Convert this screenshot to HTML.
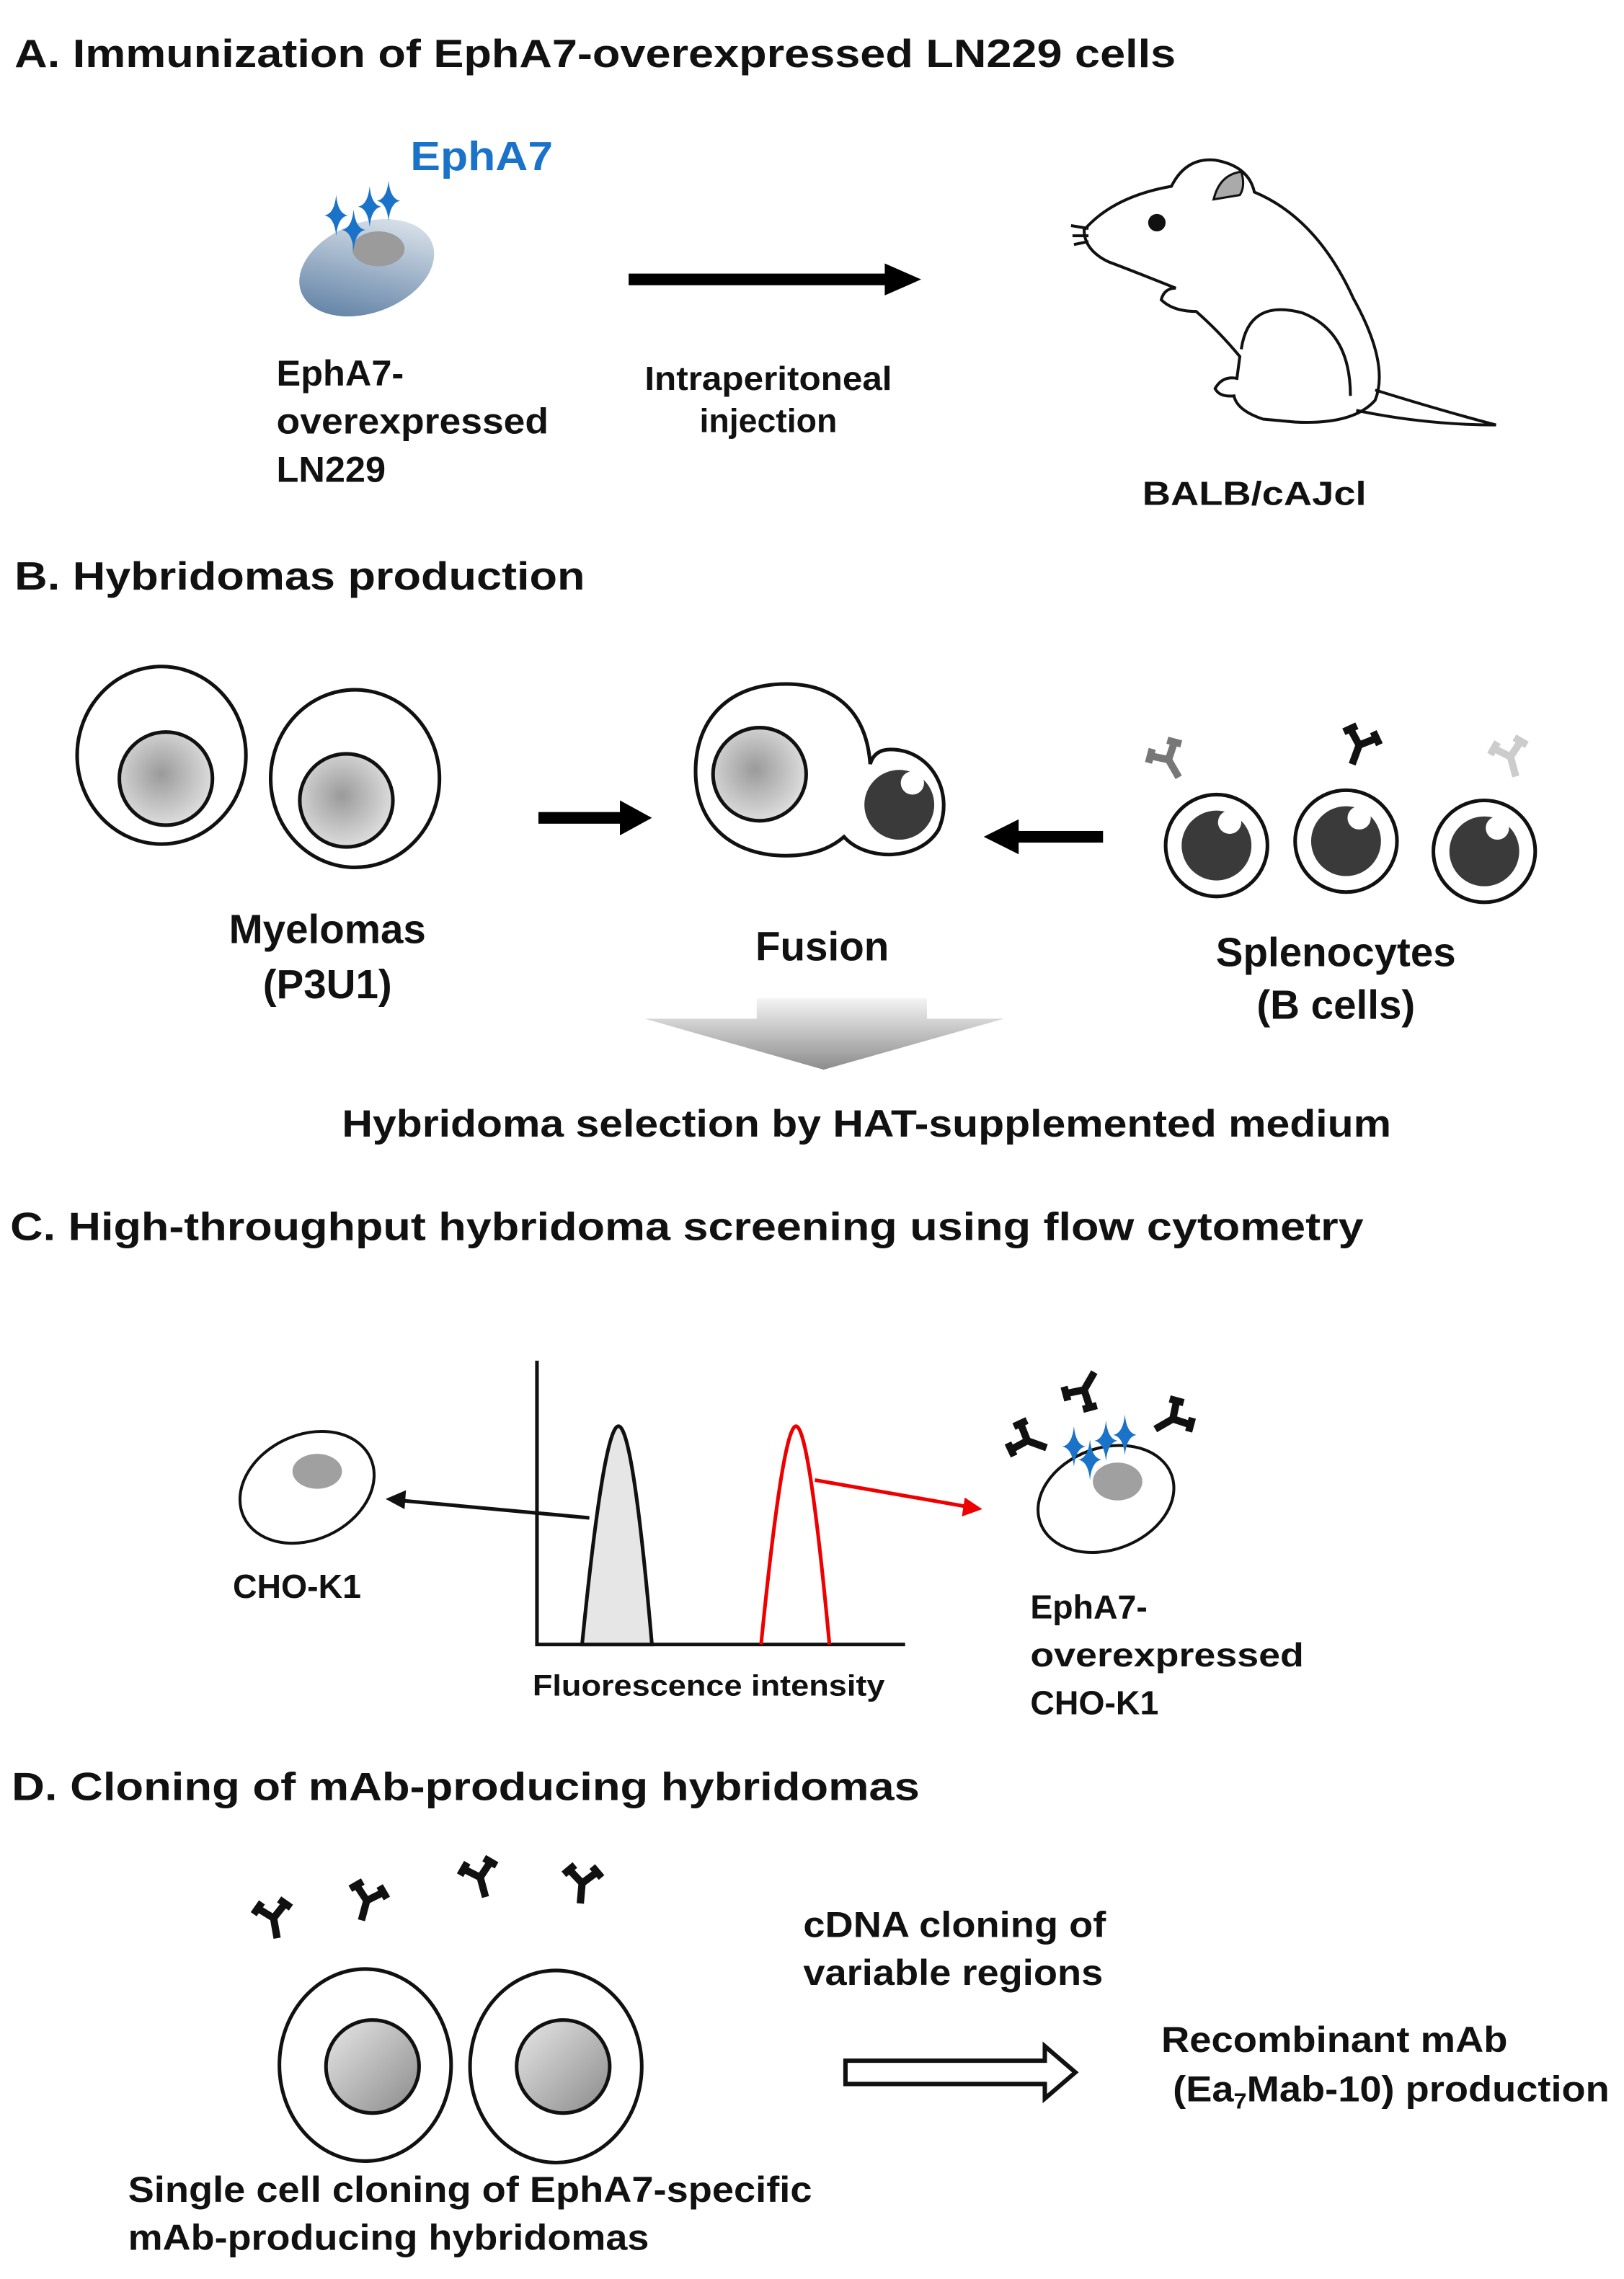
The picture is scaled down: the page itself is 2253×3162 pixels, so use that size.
<!DOCTYPE html>
<html><head><meta charset="utf-8"><style>
html,body{margin:0;padding:0;background:#fff}
svg{display:block}
text{font-family:"Liberation Sans",Arial,sans-serif;font-weight:bold;fill:#111}
</style></head><body>
<svg width="2253" height="3162" viewBox="0 0 1116 1566" preserveAspectRatio="none" xmlns="http://www.w3.org/2000/svg">
<defs>
<linearGradient id="cellg" x1="0" y1="1" x2="1" y2="0"><stop offset="0" stop-color="#4f739b"/><stop offset="1" stop-color="#eef2f6"/></linearGradient>
<radialGradient id="nuc" cx="0.45" cy="0.45" r="0.6"><stop offset="0" stop-color="#9a9a9a"/><stop offset="1" stop-color="#e2e2e2"/></radialGradient>
<linearGradient id="nucD" x1="0" y1="0" x2="1" y2="1"><stop offset="0" stop-color="#e8e8e8"/><stop offset="1" stop-color="#8a8a8a"/></linearGradient>
<linearGradient id="bigarr" x1="0" y1="0" x2="0" y2="1"><stop offset="0" stop-color="#f4f4f4"/><stop offset="1" stop-color="#8c8c8c"/></linearGradient>
<g id="ab"><path d="M0,0 L0,14 M0,0 L-9,-8 M0,0 L9,-8" stroke-width="5" fill="none"/><path d="M-13,-5 L-6,-12 M13,-5 L6,-12" stroke-width="5" fill="none"/></g>
<g id="sp"><path d="M0,-14 Q1.2,-1.2 8,0 Q1.2,1.2 0,14 Q-1.2,1.2 -8,0 Q-1.2,-1.2 0,-14Z" fill="#1a73c8"/></g>
<g id="bcell"><circle r="35" fill="#fff" stroke="#111" stroke-width="2.5"/><circle r="24" fill="#3a3a3a"/><circle cx="9" cy="-16" r="8" fill="#fff"/></g>
</defs>

<!-- A -->
<text x="10" y="46" font-size="27" textLength="798" lengthAdjust="spacingAndGlyphs">A. Immunization of EphA7-overexpressed LN229 cells</text>
<text x="282" y="117" font-size="28" style="fill:#1a73c8" textLength="98" lengthAdjust="spacingAndGlyphs">EphA7</text>
<ellipse cx="252" cy="184" rx="48" ry="31" transform="rotate(-20 252 184)" fill="url(#cellg)"/>
<ellipse cx="260" cy="171" rx="18" ry="12" fill="#9b9b9b"/>
<use href="#sp" x="231" y="148"/><use href="#sp" x="243" y="158"/><use href="#sp" x="254" y="142"/><use href="#sp" x="267" y="138"/>
<text x="190" y="265" font-size="25">EphA7-</text>
<text x="190" y="298" font-size="25" textLength="187" lengthAdjust="spacingAndGlyphs">overexpressed</text>
<text x="190" y="331" font-size="25">LN229</text>
<rect x="432" y="188" width="180" height="8" fill="#000"/><polygon points="608,181 633,192 608,203" fill="#000"/>
<text x="528" y="268" font-size="23" text-anchor="middle" textLength="170" lengthAdjust="spacingAndGlyphs">Intraperitoneal</text>
<text x="528" y="297" font-size="23" text-anchor="middle">injection</text>
<!-- mouse -->
<g fill="none" stroke="#111" stroke-width="2">
<path d="M745,158 Q765,135 805,128 Q815,108 835,110 Q858,114 862,132 Q905,150 930,205 Q955,250 945,275 Q930,292 890,290 L868,288 Q850,282 848,272 Q838,273 835,267 Q840,258 850,260 L852,245 Q838,228 822,214 Q806,214 798,206 Q800,198 808,198 Q778,186 762,180 Q745,172 745,158Z"/>
<path d="M853,240 Q858,205 895,215 Q928,228 928,272"/>
<path d="M932,282 Q980,292 1028,292 Q990,282 945,268"/>
<path d="M736,155 L748,157 M737,162 L748,162 M738,168 L748,166"/>
</g>
<path d="M834,137 Q838,120 853,118 Q856,128 852,134 Z" fill="#aaa" stroke="#111" stroke-width="1.5"/>
<ellipse cx="795" cy="153" rx="6" ry="6" fill="#111"/>
<text x="785" y="347" font-size="23" textLength="154" lengthAdjust="spacingAndGlyphs">BALB/cAJcl</text>

<!-- B -->
<text x="10" y="405" font-size="27" textLength="392" lengthAdjust="spacingAndGlyphs">B. Hybridomas production</text>
<ellipse cx="111" cy="519" rx="58" ry="61" fill="#fff" stroke="#111" stroke-width="2.5"/>
<circle cx="114" cy="535" r="32" fill="url(#nuc)" stroke="#111" stroke-width="2.5"/>
<ellipse cx="244" cy="535" rx="58" ry="61" fill="#fff" stroke="#111" stroke-width="2.5"/>
<circle cx="238" cy="550" r="32" fill="url(#nuc)" stroke="#111" stroke-width="2.5"/>
<rect x="370" y="558" width="58" height="8" fill="#000"/><polygon points="426,550 448,562 426,574" fill="#000"/>
<path d="M598,525 C595,485 570,470 540,470 C500,470 478,495 478,530 C478,568 505,588 540,588 C560,588 572,582 580,575 C595,592 632,592 645,570 C656,545 640,515 612,515 C605,515 600,518 598,525Z" fill="#fff" stroke="#111" stroke-width="2.5"/>
<circle cx="522" cy="532" r="32" fill="url(#nuc)" stroke="#111" stroke-width="2.5"/>
<circle cx="618" cy="553" r="24" fill="#3a3a3a"/><circle cx="627" cy="538" r="8" fill="#fff"/>
<rect x="698" y="571" width="60" height="8" fill="#000"/><polygon points="700,563 676,575 700,587" fill="#000"/>
<use href="#bcell" x="836" y="581"/><use href="#bcell" x="925" y="578"/><use href="#bcell" x="1020" y="585"/>
<use href="#ab" x="803" y="522" stroke="#777" transform="rotate(-30 803 522)"/>
<use href="#ab" x="934" y="512" stroke="#111" transform="rotate(20 934 512)"/>
<use href="#ab" x="1038" y="520" stroke="#ccc" transform="rotate(-15 1038 520)"/>
<text x="225" y="648" font-size="28" text-anchor="middle">Myelomas</text>
<text x="225" y="686" font-size="28" text-anchor="middle">(P3U1)</text>
<text x="565" y="660" font-size="28" text-anchor="middle">Fusion</text>
<text x="918" y="664" font-size="28" text-anchor="middle">Splenocytes</text>
<text x="918" y="700" font-size="28" text-anchor="middle">(B cells)</text>
<path d="M520,686 L637,686 L637,700 L690,700 L566,735 L443,700 L520,700Z" fill="url(#bigarr)"/>
<text x="235" y="781" font-size="26" textLength="721" lengthAdjust="spacingAndGlyphs">Hybridoma selection by HAT-supplemented medium</text>

<!-- C -->
<text x="7" y="852" font-size="27" textLength="930" lengthAdjust="spacingAndGlyphs">C. High-throughput hybridoma screening using flow cytometry</text>
<path d="M369,935 L369,1130 L622,1130" fill="none" stroke="#111" stroke-width="2.5"/>
<path d="M400,1130 Q415,980 425,980 Q435,980 448,1130Z" fill="#e6e6e6" stroke="#111" stroke-width="2.5"/>
<path d="M523,1130 Q538,980 547,980 Q556,980 570,1130" fill="none" stroke="#e00" stroke-width="2.5"/>
<ellipse cx="211" cy="1022" rx="48" ry="36" transform="rotate(-25 211 1022)" fill="#fff" stroke="#111" stroke-width="2"/>
<ellipse cx="218" cy="1011" rx="17" ry="12" fill="#a0a0a0"/>
<text x="160" y="1098" font-size="23">CHO-K1</text>
<line x1="405" y1="1043" x2="275" y2="1031" stroke="#111" stroke-width="2.5"/><polygon points="265,1030 279,1024 278,1037" fill="#111"/>
<line x1="560" y1="1017" x2="663" y2="1035" stroke="#e00" stroke-width="2.5"/><polygon points="675,1037 661,1042 663,1029" fill="#e00"/>
<text x="487" y="1165" font-size="20" text-anchor="middle" textLength="242" lengthAdjust="spacingAndGlyphs">Fluorescence intensity</text>
<ellipse cx="760" cy="1030" rx="48" ry="35" transform="rotate(-20 760 1030)" fill="#fff" stroke="#111" stroke-width="2"/>
<ellipse cx="768" cy="1018" rx="17" ry="13" fill="#a0a0a0"/>
<use href="#sp" x="738" y="994"/><use href="#sp" x="749" y="1003"/><use href="#sp" x="760" y="990"/><use href="#sp" x="773" y="986"/>
<use href="#ab" x="706" y="990" stroke="#111" transform="rotate(-70 706 990)"/>
<use href="#ab" x="745" y="955" stroke="#111" transform="rotate(-150 745 955)"/>
<use href="#ab" x="806" y="975" stroke="#111" transform="rotate(60 806 975)"/>
<text x="708" y="1112" font-size="23">EphA7-</text>
<text x="708" y="1145" font-size="23" textLength="188" lengthAdjust="spacingAndGlyphs">overexpressed</text>
<text x="708" y="1178" font-size="23">CHO-K1</text>

<!-- D -->
<text x="8" y="1237" font-size="27" textLength="624" lengthAdjust="spacingAndGlyphs">D. Cloning of mAb-producing hybridomas</text>
<use href="#ab" x="188" y="1318" stroke="#111" transform="rotate(-10 188 1318)"/>
<use href="#ab" x="252" y="1306" stroke="#111" transform="rotate(15 252 1306)"/>
<use href="#ab" x="330" y="1290" stroke="#111" transform="rotate(-15 330 1290)"/>
<use href="#ab" x="400" y="1294" stroke="#111" transform="rotate(5 400 1294)"/>
<ellipse cx="251" cy="1419" rx="59" ry="66" fill="#fff" stroke="#111" stroke-width="2.5"/>
<circle cx="256" cy="1420" r="32" fill="url(#nucD)" stroke="#111" stroke-width="2.5"/>
<ellipse cx="382" cy="1420" rx="59" ry="66" fill="#fff" stroke="#111" stroke-width="2.5"/>
<circle cx="387" cy="1420" r="32" fill="url(#nucD)" stroke="#111" stroke-width="2.5"/>
<text x="552" y="1331" font-size="25" textLength="208" lengthAdjust="spacingAndGlyphs">cDNA cloning of</text>
<text x="552" y="1364" font-size="25" textLength="206" lengthAdjust="spacingAndGlyphs">variable regions</text>
<path d="M581,1416 L718,1416 L718,1406 L739,1424 L718,1442 L718,1432 L581,1432Z" fill="#fff" stroke="#111" stroke-width="3"/>
<text x="798" y="1410" font-size="25" textLength="238" lengthAdjust="spacingAndGlyphs">Recombinant mAb</text>
<text x="806" y="1444" font-size="25" textLength="300" lengthAdjust="spacingAndGlyphs">(Ea<tspan font-size="15" dy="5">7</tspan><tspan dy="-5">Mab-10) production</tspan></text>
<text x="88" y="1513" font-size="25" textLength="470" lengthAdjust="spacingAndGlyphs">Single cell cloning of EphA7-specific</text>
<text x="88" y="1546" font-size="25" textLength="358" lengthAdjust="spacingAndGlyphs">mAb-producing hybridomas</text>
</svg>
</body></html>
